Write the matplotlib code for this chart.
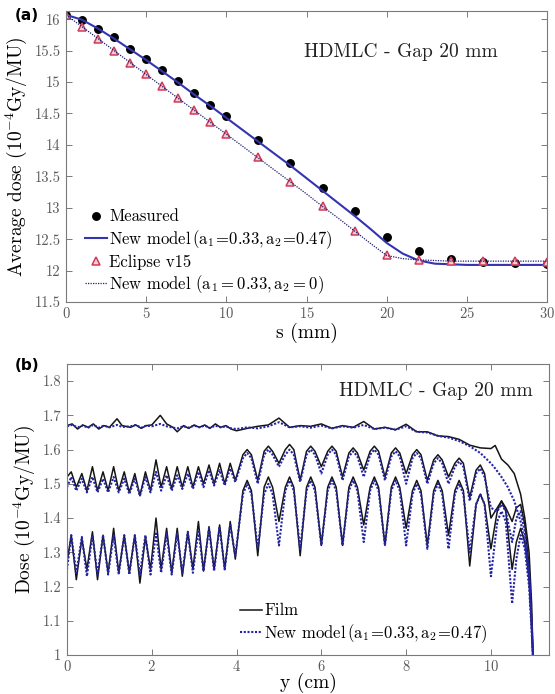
import matplotlib
matplotlib.use("Agg")
import matplotlib.pyplot as plt

plt.rcParams['font.family'] = ['cmr10', 'DejaVu Serif']
plt.rcParams['mathtext.fontset'] = 'cm'
plt.rcParams['axes.formatter.use_mathtext'] = True

# ---------------- (a) average dose vs s ----------------
s_meas = [0, 1, 2, 3, 4, 5, 6, 7, 8, 9, 10, 12, 14, 16, 18, 20, 22, 24, 26, 28, 30]
dose_meas = [16.07, 15.98, 15.84, 15.71, 15.53, 15.37, 15.19, 15.02, 14.82, 14.64, 14.46,
             14.08, 13.71, 13.32, 12.94, 12.54, 12.31, 12.19, 12.14, 12.12, 12.11]
dose_eclipse = [16.07, 15.87, 15.69, 15.49, 15.31, 15.13, 14.93, 14.74, 14.56, 14.37, 14.18,
                13.80, 13.41, 13.02, 12.63, 12.24, 12.17, 12.15, 12.15, 12.15, 12.14]

s_line = [0, 1, 2, 3, 4, 5, 6, 7, 8, 9, 10, 11, 12, 13, 14, 15, 16, 17, 18, 19, 20,
          21, 22, 23, 24, 25, 26, 27, 28, 29, 30]
model_a2_047 = [16.07, 15.99, 15.85, 15.69, 15.52, 15.35, 15.17, 14.99, 14.80, 14.62, 14.43,
                14.24, 14.05, 13.86, 13.67, 13.47, 13.27, 13.07, 12.87, 12.66, 12.44,
                12.27, 12.16, 12.11, 12.10, 12.09, 12.09, 12.09, 12.09, 12.09, 12.09]
model_a2_0 = [16.07, 15.88, 15.69, 15.50, 15.31, 15.12, 14.93, 14.74, 14.55, 14.36, 14.17,
              13.98, 13.79, 13.60, 13.41, 13.22, 13.02, 12.83, 12.63, 12.43, 12.24,
              12.19, 12.17, 12.16, 12.15, 12.15, 12.15, 12.15, 12.15, 12.15, 12.15]
s_ticks = [0, 5, 10, 15, 20, 25, 30]
dose_ticks = [11.5, 12, 12.5, 13, 13.5, 14, 14.5, 15, 15.5, 16]

# ---------------- (b) dose profiles ----------------
# top profile
y_top = [0, 0.12, 0.25, 0.37, 0.5, 0.62, 0.75, 0.87, 1.0, 1.18, 1.3, 1.5, 1.62, 1.75, 1.87,
         2.0, 2.2, 2.35, 2.5, 2.6, 2.75, 2.87, 3.0, 3.12, 3.25, 3.37, 3.5, 3.62, 3.75, 3.87,
         4.0, 4.25, 4.5, 4.75, 5.0, 5.25, 5.5, 5.75, 6.0, 6.25, 6.5, 6.75, 7.0, 7.25, 7.5,
         7.75, 8.0, 8.25, 8.5, 8.75, 9.0, 9.25, 9.5, 9.75, 10.0, 10.1, 10.25, 10.4, 10.55,
         10.7, 10.8, 10.9, 10.96, 11.0]
top_film = [1.67, 1.675, 1.66, 1.672, 1.665, 1.675, 1.66, 1.67, 1.665, 1.69, 1.67, 1.665,
            1.672, 1.662, 1.67, 1.672, 1.70, 1.675, 1.665, 1.652, 1.67, 1.662, 1.672, 1.665,
            1.672, 1.662, 1.675, 1.665, 1.67, 1.66, 1.655, 1.662, 1.668, 1.672, 1.692, 1.665,
            1.67, 1.668, 1.675, 1.662, 1.67, 1.665, 1.682, 1.66, 1.665, 1.658, 1.674, 1.652,
            1.652, 1.64, 1.638, 1.63, 1.613, 1.605, 1.603, 1.612, 1.572, 1.555, 1.53, 1.47,
            1.40, 1.30, 1.15, 0.97]
top_model = [1.668, 1.672, 1.665, 1.67, 1.664, 1.672, 1.664, 1.67, 1.665, 1.672, 1.666, 1.668,
             1.672, 1.664, 1.67, 1.668, 1.675, 1.668, 1.664, 1.662, 1.668, 1.664, 1.67, 1.665,
             1.67, 1.663, 1.67, 1.665, 1.668, 1.662, 1.66, 1.665, 1.662, 1.668, 1.68, 1.665,
             1.668, 1.664, 1.67, 1.662, 1.668, 1.664, 1.672, 1.66, 1.664, 1.658, 1.668, 1.652,
             1.65, 1.64, 1.635, 1.625, 1.61, 1.59, 1.56, 1.545, 1.52, 1.49, 1.45, 1.39,
             1.33, 1.24, 1.10, 0.97]

# middle and bottom profiles share the same sample positions
y_prof = [0, 0.1, 0.22, 0.35, 0.47, 0.6, 0.72, 0.85, 0.97, 1.1, 1.22, 1.35, 1.47, 1.6, 1.72,
          1.85, 1.97, 2.1, 2.22, 2.35, 2.47, 2.6, 2.72, 2.85, 2.97, 3.1, 3.22, 3.35, 3.47,
          3.6, 3.72, 3.85, 3.97,
          4.15, 4.25, 4.35, 4.5, 4.65, 4.75, 4.85, 5.0, 5.15, 5.25, 5.35, 5.5,
          5.65, 5.75, 5.85, 6.0, 6.15, 6.25, 6.35, 6.5, 6.65, 6.75, 6.85, 7.0,
          7.15, 7.25, 7.35, 7.5, 7.65, 7.75, 7.85, 8.0, 8.15, 8.25, 8.35, 8.5,
          8.65, 8.75, 8.85, 9.0, 9.15, 9.25, 9.35, 9.5, 9.65, 9.75, 9.85, 10.0,
          10.15, 10.25, 10.35, 10.5, 10.6, 10.7, 10.8, 10.9, 10.96, 11.0]

mid_film = [1.52, 1.535, 1.49, 1.53, 1.48, 1.55, 1.48, 1.535, 1.48, 1.55, 1.48, 1.535, 1.475,
            1.53, 1.465, 1.535, 1.48, 1.57, 1.49, 1.55, 1.485, 1.55, 1.49, 1.55, 1.49, 1.55,
            1.50, 1.555, 1.50, 1.56, 1.50, 1.56, 1.51,
            1.585, 1.60, 1.585, 1.51,
            1.595, 1.61, 1.595, 1.56,
            1.60, 1.615, 1.60, 1.51,
            1.595, 1.61, 1.595, 1.55,
            1.595, 1.61, 1.595, 1.52,
            1.59, 1.605, 1.59, 1.54,
            1.595, 1.61, 1.595, 1.52,
            1.59, 1.605, 1.59, 1.53,
            1.585, 1.60, 1.585, 1.51,
            1.57, 1.585, 1.57, 1.52,
            1.56, 1.575, 1.56, 1.46,
            1.54, 1.555, 1.53, 1.40,
            1.43, 1.45, 1.43, 1.39,
            1.43, 1.44, 1.38, 1.26, 1.10, 0.97]
mid_model = [1.49, 1.52, 1.48, 1.515, 1.475, 1.52, 1.475, 1.515, 1.475, 1.52, 1.475, 1.515,
             1.47, 1.515, 1.465, 1.52, 1.475, 1.535, 1.48, 1.525, 1.48, 1.525, 1.485, 1.53,
             1.485, 1.535, 1.49, 1.54, 1.495, 1.54, 1.495, 1.545, 1.505,
             1.575, 1.59, 1.575, 1.50,
             1.585, 1.60, 1.585, 1.55,
             1.585, 1.60, 1.585, 1.505,
             1.585, 1.60, 1.585, 1.53,
             1.585, 1.60, 1.585, 1.51,
             1.58, 1.595, 1.58, 1.52,
             1.585, 1.60, 1.585, 1.51,
             1.58, 1.595, 1.58, 1.50,
             1.575, 1.59, 1.575, 1.50,
             1.56, 1.575, 1.56, 1.50,
             1.55, 1.565, 1.55, 1.45,
             1.53, 1.545, 1.52, 1.43,
             1.42, 1.44, 1.42, 1.33,
             1.40, 1.42, 1.36, 1.24, 1.09, 0.97]

low_film = [1.27, 1.35, 1.22, 1.34, 1.25, 1.36, 1.22, 1.35, 1.24, 1.37, 1.24, 1.35, 1.24,
            1.35, 1.21, 1.345, 1.25, 1.40, 1.25, 1.37, 1.24, 1.37, 1.23, 1.36, 1.25, 1.39,
            1.245, 1.375, 1.25, 1.38, 1.25, 1.39, 1.28,
            1.48, 1.51, 1.48, 1.29,
            1.49, 1.52, 1.49, 1.39,
            1.49, 1.52, 1.49, 1.29,
            1.49, 1.52, 1.49, 1.32,
            1.49, 1.52, 1.49, 1.32,
            1.49, 1.52, 1.49, 1.38,
            1.49, 1.52, 1.49, 1.32,
            1.49, 1.52, 1.49, 1.37,
            1.48, 1.51, 1.48, 1.32,
            1.48, 1.51, 1.48, 1.35,
            1.48, 1.51, 1.48, 1.26,
            1.44, 1.47, 1.44, 1.31,
            1.42, 1.45, 1.42, 1.25,
            1.33, 1.37, 1.33, 1.22, 1.08, 0.97]
low_model = [1.25, 1.35, 1.24, 1.345, 1.23, 1.35, 1.235, 1.35, 1.235, 1.35, 1.235, 1.35,
             1.235, 1.35, 1.235, 1.35, 1.235, 1.355, 1.24, 1.355, 1.235, 1.355, 1.24, 1.36,
             1.24, 1.365, 1.245, 1.37, 1.245, 1.375, 1.25, 1.38, 1.29,
             1.47, 1.50, 1.47, 1.31,
             1.47, 1.50, 1.47, 1.32,
             1.48, 1.51, 1.48, 1.31,
             1.48, 1.51, 1.48, 1.32,
             1.48, 1.51, 1.48, 1.32,
             1.48, 1.51, 1.48, 1.33,
             1.48, 1.51, 1.48, 1.32,
             1.48, 1.51, 1.48, 1.32,
             1.47, 1.50, 1.47, 1.31,
             1.47, 1.50, 1.47, 1.31,
             1.47, 1.50, 1.47, 1.30,
             1.44, 1.47, 1.44, 1.23,
             1.39, 1.42, 1.39, 1.15,
             1.28, 1.35, 1.31, 1.20, 1.07, 0.97]
y_ticks = [0, 2, 4, 6, 8, 10]
dose_b_ticks = [1, 1.1, 1.2, 1.3, 1.4, 1.5, 1.6, 1.7, 1.8]

TICK_GRAY = '#5a5a5a'
SPINE_GRAY = '#7a7a7a'


def style_axes(ax):
    for sp in ax.spines.values():
        sp.set_color(SPINE_GRAY)
        sp.set_linewidth(0.8)
    ax.tick_params(direction='in', top=True, right=True, length=4, width=0.7,
                   color=SPINE_GRAY, labelcolor=TICK_GRAY, labelsize=10.5, pad=4)


fig = plt.figure(figsize=(5.55, 6.94), dpi=100)

# panel (a)
ax1 = fig.add_axes([66 / 555, 1 - 302 / 694, (547 - 66) / 555, (302 - 11) / 694])
h_meas, = ax1.plot(s_meas, dose_meas, 'o', color='black', ms=5.4, label='Measured')
h_new, = ax1.plot(s_line, model_a2_047, '-', color='#3434b0', lw=1.5,
                  label=r'New model$\,(\mathrm{a}_1\!=\!0.33, \mathrm{a}_2\!=\!0.47)$')
h_ecl, = ax1.plot(s_meas, dose_eclipse, '^', mfc='#f6cdd3', mec='#d23c5a', mew=1.1,
                  ms=5.5, label='Eclipse v15')
h_new0, = ax1.plot(s_line, model_a2_0, color='#1c1c70', lw=0.9, ls=(0, (1, 1)),
                   label=r'New model $(\mathrm{a}_1 = 0.33, \mathrm{a}_2 = 0)$')
ax1.set_xlim(0, 30)
ax1.set_ylim(11.5, 16.13)
ax1.set_xticks(s_ticks)
ax1.set_yticks(dose_ticks)
ax1.set_yticklabels([f'{v:g}' for v in dose_ticks])
style_axes(ax1)
ax1.tick_params(axis='x', pad=3)
ax1.set_xlabel('s (mm)', fontsize=14, labelpad=1)
ax1.set_ylabel(r'Average dose $(10^{-4}\mathrm{Gy/MU})$', fontsize=14, labelpad=4)
ax1.text(20.9, 15.47, 'HDMLC - Gap 20 mm', fontsize=14, ha='center', va='center', color='#222222')
ax1.legend(handles=[h_meas, h_new, h_ecl, h_new0], loc='lower left',
           bbox_to_anchor=(0.015, -0.02), frameon=False, fontsize=12,
           handlelength=1.3, handletextpad=0.15, labelspacing=0.22, borderpad=0.2)

# panel (b)
ax2 = fig.add_axes([67 / 555, 1 - 655 / 694, (549 - 67) / 555, (655 - 364) / 694])
model_color = '#2424a6'
ax2.plot(y_top, top_film, color='#151515', lw=1.1)
ax2.plot(y_prof, mid_film, color='#151515', lw=1.1)
ax2.plot(y_prof, low_film, color='#151515', lw=1.1, label='Film')
ax2.plot(y_top, top_model, color=model_color, lw=1.5, ls=(0, (1, 0.8)))
ax2.plot(y_prof, mid_model, color=model_color, lw=1.5, ls=(0, (1, 0.8)))
ax2.plot(y_prof, low_model, color=model_color, lw=1.5, ls=(0, (1, 0.8)),
         label=r'New model$\,(\mathrm{a}_1\!=\!0.33, \mathrm{a}_2\!=\!0.47)$')
ax2.set_xlim(0, 11.37)
ax2.set_ylim(1, 1.85)
ax2.set_xticks(y_ticks)
ax2.set_yticks(dose_b_ticks)
ax2.set_yticklabels([f'{v:g}' for v in dose_b_ticks])
style_axes(ax2)
ax2.tick_params(axis='x', pad=3)
ax2.set_xlabel('y (cm)', fontsize=14, labelpad=-1)
ax2.set_ylabel(r'Dose $(10^{-4}\mathrm{Gy/MU})$', fontsize=14, labelpad=4)
ax2.text(8.7, 1.77, 'HDMLC - Gap 20 mm', fontsize=14, ha='center', va='center', color='#222222')
ax2.legend(loc='lower left', bbox_to_anchor=(0.335, -0.005), frameon=False, fontsize=12,
           handlelength=1.3, handletextpad=0.15, labelspacing=0.22, borderpad=0.2)

fig.text(15 / 555, 1 - 16 / 694, '(a)', fontsize=11, fontweight='bold',
         family='DejaVu Sans', ha='left', va='center')
fig.text(15 / 555, 1 - 365 / 694, '(b)', fontsize=11, fontweight='bold',
         family='DejaVu Sans', ha='left', va='center')

fig.savefig('out.png', dpi=100)
